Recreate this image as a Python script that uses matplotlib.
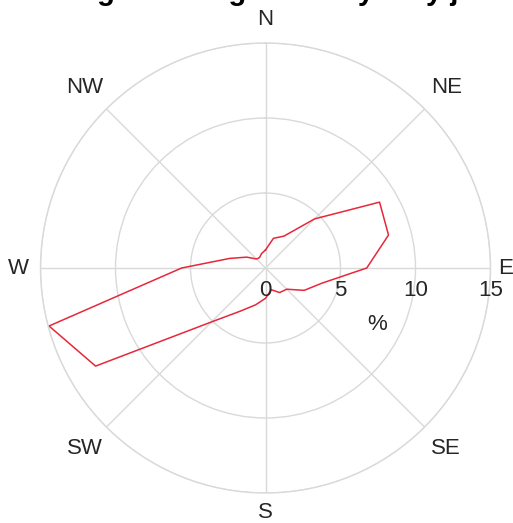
import numpy as np
import matplotlib
matplotlib.use('Agg')
import matplotlib.pyplot as plt

# heading bins (degrees clockwise from north) and share of time (%)
HEADING = [0, 15, 30, 45, 60, 75, 90, 105, 120, 135, 150, 165,
           180, 195, 210, 225, 240, 255, 270, 285, 300, 315, 330, 345]
PERCENT = [1.2, 2.05, 2.45, 4.63, 8.78, 8.49, 6.75, 3.9, 2.98, 2.0, 1.89, 1.5,
           2.02, 2.54, 3.31, 5.08, 13.08, 14.94, 5.59, 2.47, 1.45, 0.85, 0.8, 1.0]

RINGS = [5, 10, 15]
RING_LABELS = ['0', '5', '10', '15']
COMPASS = ['N', 'NE', 'E', 'SE', 'S', 'SW', 'W', 'NW']
COMPASS_R = [16.55, 17.05, 16.0, 17.0, 16.3, 17.05, 16.5, 17.05]
TITLE = 'Wind heading and range of the yearly jet stream'

plt.rcParams['font.family'] = ['Liberation Sans', 'DejaVu Sans']
TXT = '#262626'
GRID = '#d9d9d9'

W, H = 513, 523
cx, cy, R = 265.5, 268, 225
fig = plt.figure(figsize=(W / 100, H / 100), dpi=100)
ax = fig.add_axes([(cx - R) / W, (H - cy - R) / H, 2 * R / W, 2 * R / H],
                  projection='polar')
ax.set_theta_zero_location('N')
ax.set_theta_direction(-1)
ax.set_ylim(0, 15)
ax.set_thetagrids(np.arange(0, 360, 45), labels=[''] * 8)
ax.set_rgrids(RINGS, labels=[''] * len(RINGS))
ax.grid(True, color=GRID, lw=1)
ax.spines['polar'].set_color(GRID)
ax.spines['polar'].set_linewidth(1)
ax.tick_params(length=0)

th = np.deg2rad(HEADING + HEADING[:1])
rr = PERCENT + PERCENT[:1]
ax.plot(th, rr, color='#e6283a', lw=1.1)

for i, (lab, r) in enumerate(zip(COMPASS, COMPASS_R)):
    ax.text(np.deg2rad(45 * i), r, lab, ha='center', va='center',
            fontsize=16, color=TXT, clip_on=False)

for i, lab in enumerate(RING_LABELS):
    ax.annotate(lab, xy=(np.pi / 2, 5 * i), xytext=(0, -23),
                textcoords='offset pixels', ha='center', va='center',
                fontsize=16, color=TXT, annotation_clip=False)
ax.annotate('%', xy=(0, 0), xytext=(112, -57), textcoords='offset pixels',
            ha='center', va='center', fontsize=16, color=TXT,
            annotation_clip=False)

# title sits mostly above the top edge, only its descenders show
fig.text(0.5, 1 - 0.5 / H, TITLE, ha='center', va='baseline',
         fontsize=21, fontweight='bold', color='#000000')

fig.savefig('out.png', dpi=100)
